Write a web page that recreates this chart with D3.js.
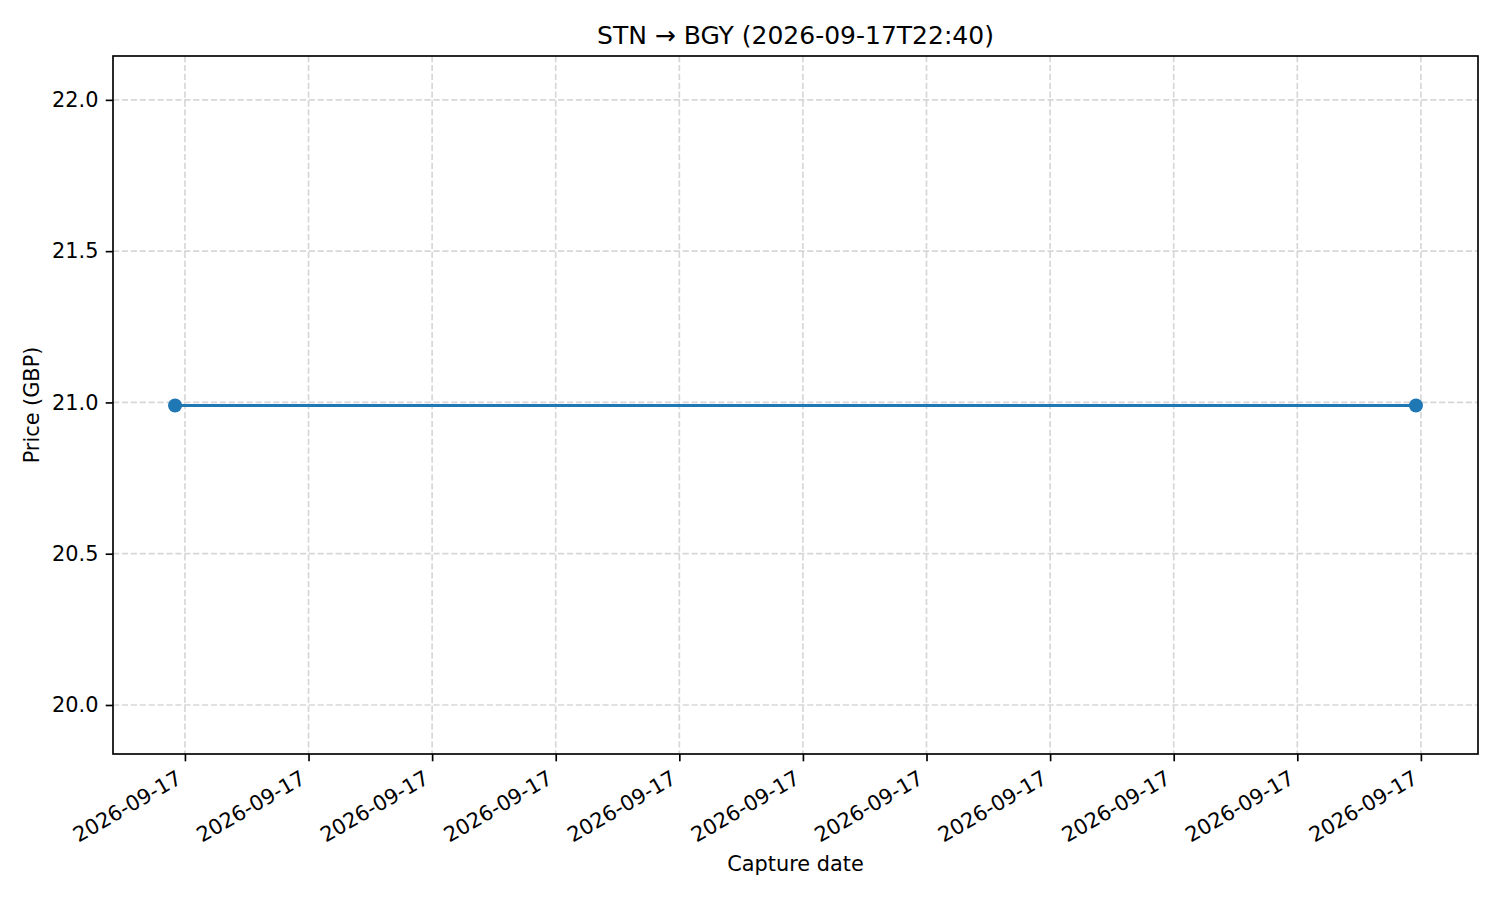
<!DOCTYPE html>
<html><head><meta charset="utf-8">
<script src="https://cdn.jsdelivr.net/npm/d3@7"></script>
<style>body{margin:0;background:#fff;overflow:hidden}text{font-family:"DejaVu Sans",sans-serif;fill:#000}</style>
</head><body>
<svg id="c" width="1500" height="900"></svg>
<script>
// ---- data ----
const captureTimes = ["2026-09-17T08:04:36", "2026-09-17T08:54:48"];
const prices = [20.99, 20.99];
const yTickValues = [20.0, 20.5, 21.0, 21.5, 22.0];
const yLimits = [19.838, 22.145];
const tickMinuteStep = 5;
const titleText = "STN \u2192 BGY (2026-09-17T22:40)";
const xLabelText = "Capture date";
const yLabelText = "Price (GBP)";

// ---- layout ----
const W = 1500, H = 900;
const m = {left: 113, right: 1478, top: 56, bottom: 754};
const fs = 20.83, titleFs = 25;
const tickLen = 7.3, tickPad = 7.3;
const svg = d3.select("#c");
svg.append("rect").attr("width", W).attr("height", H).attr("fill", "#fff");

const parse = d3.timeParse("%Y-%m-%dT%H:%M:%S");
const data = captureTimes.map((t, i) => ({t: parse(t), v: prices[i]}));
const ext = d3.extent(data, d => d.t);
const span = ext[1] - ext[0];
const x = d3.scaleTime()
  .domain([new Date(+ext[0] - span * 0.05), new Date(+ext[1] + span * 0.05)])
  .range([m.left, m.right]);
const y = d3.scaleLinear().domain(yLimits).range([m.bottom, m.top]);

const xTicks = x.ticks(d3.timeMinute.every(tickMinuteStep));
const fmt = d3.timeFormat("%Y-%m-%d");

// grid
const grid = svg.append("g").attr("stroke", "#b0b0b0").attr("stroke-opacity", 0.5)
  .attr("stroke-width", 1.67).attr("stroke-dasharray", "6.2,2.7").attr("fill", "none");
grid.selectAll("line.gx").data(xTicks).join("line").attr("class", "gx")
  .attr("x1", d => x(d)).attr("x2", d => x(d)).attr("y1", m.top).attr("y2", m.bottom);
grid.selectAll("line.gy").data(yTickValues).join("line").attr("class", "gy")
  .attr("y1", d => y(d)).attr("y2", d => y(d)).attr("x1", m.left).attr("x2", m.right);

// line + markers
const line = d3.line().x(d => x(d.t)).y(d => y(d.v));
svg.append("path").datum(data).attr("d", line).attr("fill", "none")
  .attr("stroke", "#1f77b4").attr("stroke-width", 3.1).attr("stroke-linecap", "square");
svg.selectAll("circle.pt").data(data).join("circle").attr("class", "pt")
  .attr("cx", d => x(d.t)).attr("cy", d => y(d.v)).attr("r", 7).attr("fill", "#1f77b4");

// spines
svg.append("rect").attr("x", m.left).attr("y", m.top)
  .attr("width", m.right - m.left).attr("height", m.bottom - m.top)
  .attr("fill", "none").attr("stroke", "#000").attr("stroke-width", 1.67);

// y axis
const yAxis = d3.axisLeft(y).tickValues(yTickValues).tickFormat(d3.format(".1f"))
  .tickSize(tickLen).tickPadding(tickPad);
const gy = svg.append("g").attr("transform", `translate(${m.left},0)`).call(yAxis);
gy.select(".domain").remove();
gy.selectAll(".tick line").attr("stroke", "#000").attr("stroke-width", 1.67);
gy.selectAll(".tick text").attr("font-size", fs).attr("font-family", "DejaVu Sans").attr("fill", "#000");

// x axis
const xAxis = d3.axisBottom(x).tickValues(xTicks).tickFormat(fmt).tickSize(tickLen).tickPadding(tickPad);
const gx = svg.append("g").attr("transform", `translate(0,${m.bottom})`).call(xAxis);
gx.select(".domain").remove();
gx.selectAll(".tick line").attr("stroke", "#000").attr("stroke-width", 1.67);
const hBox = 0.97 * fs, desc = 0.208 * fs;
const offX = -0.5 * desc;
const offY = tickLen + tickPad + 0.866 * (hBox - desc);
gx.selectAll(".tick text")
  .attr("font-size", fs).attr("font-family", "DejaVu Sans").attr("fill", "#000")
  .attr("text-anchor", "end").attr("dy", null).attr("y", null)
  .attr("transform", `translate(${offX},${offY}) rotate(-30)`);

// title & labels
svg.append("text").attr("x", (m.left + m.right) / 2).attr("y", 43.5)
  .attr("text-anchor", "middle").attr("font-size", titleFs).text(titleText);
svg.append("text").attr("x", (m.left + m.right) / 2).attr("y", 871)
  .attr("text-anchor", "middle").attr("font-size", fs).text(xLabelText);
svg.append("text").attr("transform", `translate(38.5,${(m.top + m.bottom) / 2}) rotate(-90)`)
  .attr("text-anchor", "middle").attr("font-size", fs).text(yLabelText);
</script>
</body></html>
